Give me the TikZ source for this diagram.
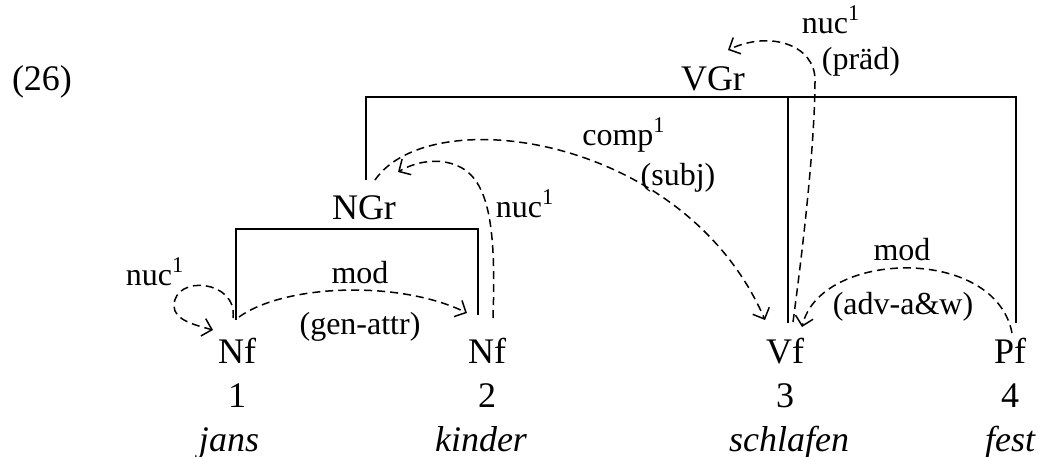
\documentclass[tikz,border=0pt]{standalone}
\usepackage{fontspec}
\setmainfont{Liberation Serif}
\usetikzlibrary{positioning, arrows.meta}

\begin{document}
\begin{tikzpicture}[x=0.5pt, y=-0.5pt, node distance=22pt, on grid,
    word/.style={font=\fontsize{18}{22}\selectfont, inner sep=0pt,
      text height=12.5pt, text depth=4pt},
    lab/.style={font=\fontsize{16}{19}\selectfont, inner sep=0pt},
    dep/.style={line width=0.75pt, dash pattern=on 4pt off 2.5pt,
      -{Straight Barb[length=4.5pt, width=9pt]}},
    tree/.style={line width=0.9pt}]
   \useasboundingbox (0,0) rectangle (1039,456);

   % words, numbers and categories
   \node[word] (nf1) at (237,354.5) {Nf};
   \node[word] (nf2) at (487,354.5) {Nf};
   \node[word] (vf)  at (785,354.5) {Vf};
   \node[word] (pf)  at (1010,354.5) {Pf};
   \node[word] (n1) [below=of nf1] {1};
   \node[word] (n2) [below=of nf2] {2};
   \node[word] (n3) [below=of vf]  {3};
   \node[word] (n4) [below=of pf]  {4};
   \node[word] (w1) [below=of n1, xshift=-4pt] {\itshape jans};
   \node[word] (w2) [below=of n2, xshift=-3pt] {\itshape kinder};
   \node[word] (w3) [below=of n3, xshift=2pt]  {\itshape schlafen};
   \node[word] (w4) [below=of n4] {\itshape fest};
   \node[word] (ngr) at (364,210.5) {NGr};
   \node[word] (vgr) at (713,81.5) {VGr};
   \node[word] (ex) at (42,81.5) {(26)};

   % tree lines
   \coordinate (nf1t) at (236,320);
   \coordinate (nf2t) at (478,315);
   \coordinate (ngrb) at (366,180);
   \coordinate (vft)  at (788,323);
   \coordinate (pft)  at (1016,323);
   \draw[tree] (nf1t) -- (nf1t |- 0,229) -- (nf2t |- 0,229) -- (nf2t);
   \draw[tree] (ngrb) -- (ngrb |- 0,97) -- (pft |- 0,97) -- (pft);
   \draw[tree] (vft) -- (vft |- 0,97);

   % dependency arrows
   \coordinate (loopa) at (233,318);
   \coordinate (loopb) at (213,330);
   \coordinate (moda)  at (239,317);
   \coordinate (modb)  at (467,313);
   \coordinate (nuca)  at (493,318);
   \coordinate (nucb)  at (398,172);
   \coordinate (compa) at (375,180);
   \coordinate (compb) at (765,320);
   \coordinate (preda) at (793,322);
   \coordinate (predb) at (728,50);
   \coordinate (adva)  at (1012,333);
   \coordinate (advb)  at (802,327);

   \draw[dep] (loopa) .. controls (238,280) and (174,274) .. (174,306)
      .. controls (174,320) and (195,325) .. (loopb);
   \draw[dep] (moda) .. controls (285,284) and (400,280) .. (modb);
   \draw[dep] (nuca) .. controls (496,230) and (490,180) .. (458,166)
      .. controls (438,157) and (415,162) .. (nucb);
   \draw[dep] (compa) .. controls (430,100) and (685,135) .. (compb);
   \draw[dep] (preda) .. controls (812,180) and (815,110) .. (815,80)
      .. controls (815,45) and (770,30) .. (predb);
   \draw[dep] (adva) .. controls (995,245) and (820,250) .. (advb);

   % labels
   \node[lab, anchor=base] (l1) at (155,285) {nuc\textsuperscript{1}};
   \node[lab, anchor=base] (l2) at (360,283) {mod};
   \node[lab] (l3) at (360,327) {(gen-attr)};
   \node[lab, anchor=base] (l4) at (525,217) {nuc\textsuperscript{1}};
   \node[lab, anchor=base] (l5) at (624,145) {comp\textsuperscript{1}};
   \node[lab] (l6) at (678,178) {(subj)};
   \node[lab, anchor=base] (l7) at (831,33) {nuc\textsuperscript{1}};
   \node[lab] (l8) at (861,62) {(präd)};
   \node[lab, anchor=base] (l9) at (902,260) {mod};
   \node[lab] (l10) at (903,307) {(adv-a\&w)};
\end{tikzpicture}
\end{document}
